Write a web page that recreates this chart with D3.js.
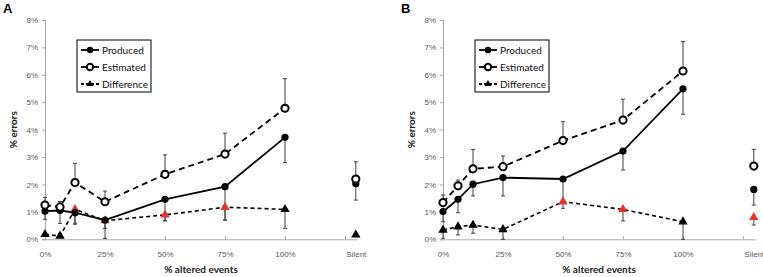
<!DOCTYPE html>
<html>
<head>
<meta charset="utf-8">
<script src="https://cdn.jsdelivr.net/npm/d3@7"></script>
<style>
  body { margin: 0; background: #fff; }
  svg { display: block; font-family: Lato, "Open Sans", sans-serif; }
  .tick text { fill: #595959; font-size: 8px; }
  .axes path, .axes line { stroke: #a6a6a6; }
  .axisLabel { font-weight: bold; font-size: 10px; fill: #222; text-anchor: middle; }
  .panelLabel { font-family: "Liberation Sans", Arial, sans-serif; font-weight: bold; font-size: 13px; }
  .legend-label { font-size: 10px; fill: #111; }
</style>
</head>
<body>
<div id="canvas"></div>
<script>
// DATA
const categories = ["0%", "6.25%", "12.5%", "25%", "50%", "75%", "100%", "Silent"];
const altered = [0, 6.25, 12.5, 25, 50, 75, 100, null];   // null = Silent
const xTickLabels = ["0%", "25%", "50%", "75%", "100%", "Silent"];
const yTicks = [0, 1, 2, 3, 4, 5, 6, 7, 8];

const aProduced      = [1.03, 1.05, 0.97, 0.70, 1.46, 1.92, 3.72, 2.03];
const aProducedErr   = [0.30, 0.47, 0.42, 0.30, 0.78, 1.22, 0.92, 0.60];
const aEstimated     = [1.25, 1.18, 2.07, 1.37, 2.37, 3.11, 4.78, 2.20];
const aEstimatedErr  = [0.28, 0.20, 0.70, 0.39, 0.71, 0.76, 1.08, 0.63];
const aDifference    = [0.18, 0.12, 1.09, 0.68, 0.89, 1.17, 1.09, 0.16];
const aDifferenceErr = [0.00, 0.00, 0.50, 0.65, 0.22, 0.47, 0.69, 0.00];
const aSignificant   = [false, false, true, true, true, true, false, false];

const bProduced      = [1.01, 1.46, 2.01, 2.25, 2.20, 3.22, 5.49, 1.82];
const bProducedErr   = [0.37, 0.49, 0.43, 0.67, 0.80, 0.69, 0.93, 0.57];
const bEstimated     = [1.34, 1.95, 2.57, 2.65, 3.60, 4.35, 6.14, 2.67];
const bEstimatedErr  = [0.28, 0.21, 0.71, 0.39, 0.69, 0.76, 1.07, 0.61];
const bDifference    = [0.34, 0.46, 0.52, 0.36, 1.37, 1.09, 0.64, 0.80];
const bDifferenceErr = [0.30, 0.30, 0.30, 0.36, 0.24, 0.42, 0.64, 0.28];
const bSignificant   = [false, false, false, false, true, true, false, true];

// DIMENSIONS
const width = 763;
const height = 277;
const SILENT = 129.5;

const canvas = d3.select("#canvas")
  .append("svg")
  .attr("width", width)
  .attr("height", height);

function drawPanel(left, label, produced, producedErr, estimated, estimatedErr, difference, differenceErr, significant) {
  const margin = { left: left + 45, top: 20 };
  const plot_width = 312;
  const plot_height = 219.3;

  canvas.append("text").attr("class", "panelLabel")
    .attr("x", left + 3).attr("y", 13).text(label);

  const plot = canvas.append("g")
    .attr("transform", `translate(${margin.left},${margin.top})`);

  // SCALES
  const scaleX = d3.scaleLinear().domain([0, 130]).range([0, plot_width]);
  const scaleY = d3.scaleLinear().domain([0, 8]).range([plot_height, 0]);

  const rows = categories.map((c, i) => ({
    cat: c,
    x: altered[i] === null ? SILENT : altered[i],
    silent: altered[i] === null,
    p: produced[i], pe: producedErr[i],
    e: estimated[i], ee: estimatedErr[i],
    d: difference[i], de: differenceErr[i],
    sig: significant[i]
  }));
  const main = rows.filter(r => !r.silent);

  // AXES
  plot.append("g").attr("class", "axes")
    .call(d3.axisLeft(scaleY).tickValues(yTicks).tickFormat(d => d + "%").tickSize(3).tickPadding(4));

  plot.append("g").attr("class", "axes")
    .attr("transform", `translate(0,${plot_height})`)
    .call(d3.axisBottom(scaleX).tickValues([0, 25, 50, 75, 100, 125]).tickFormat("").tickSize(-3).tickSizeOuter(0));

  const xl = plot.append("g").attr("class", "axes")
    .attr("transform", `translate(0,${plot_height})`)
    .call(d3.axisBottom(scaleX).tickValues([0, 25, 50, 75, 100, SILENT])
      .tickFormat((d, i) => xTickLabels[i]).tickSize(0).tickPadding(12));
  xl.select(".domain").remove();

  // LABELS
  plot.append("text").attr("class", "axisLabel")
    .attr("x", plot_width / 2).attr("y", plot_height + 34)
    .text("% altered events");
  plot.append("text").attr("class", "axisLabel")
    .attr("transform", `translate(-28,${plot_height / 2}) rotate(-90)`)
    .text("% errors");

  // ERROR BARS
  function errorBars(key, errKey, dir) {
    const g = plot.append("g").attr("stroke", "#404040").attr("stroke-width", 1);
    rows.filter(r => r[errKey] > 0).forEach(r => {
      const x = scaleX(r.x);
      const end = Math.max(0, r[key] + dir * r[errKey]);
      g.append("line").attr("x1", x).attr("x2", x)
        .attr("y1", scaleY(r[key])).attr("y2", scaleY(end));
      g.append("line").attr("x1", x - 2).attr("x2", x + 2)
        .attr("y1", scaleY(end)).attr("y2", scaleY(end));
    });
  }
  errorBars("e", "ee", 1);
  errorBars("p", "pe", -1);
  errorBars("d", "de", -1);

  // LINES
  const line = key => d3.line().x(d => scaleX(d.x)).y(d => scaleY(d[key]));
  plot.append("path").datum(main).attr("d", line("d"))
    .attr("fill", "none").attr("stroke", "#000").attr("stroke-width", 1.6).attr("stroke-dasharray", "4,3");
  plot.append("path").datum(main).attr("d", line("e"))
    .attr("fill", "none").attr("stroke", "#000").attr("stroke-width", 1.8).attr("stroke-dasharray", "6,4");
  plot.append("path").datum(main).attr("d", line("p"))
    .attr("fill", "none").attr("stroke", "#000").attr("stroke-width", 1.8);

  // MARKERS
  plot.append("g").selectAll("path").data(rows).join("path")
    .attr("d", d3.symbol(d3.symbolTriangle, 38))
    .attr("transform", d => `translate(${scaleX(d.x)},${scaleY(d.d)})`)
    .attr("fill", d => d.sig ? "#e3342b" : "#000");
  plot.append("g").selectAll("circle").data(rows).join("circle")
    .attr("cx", d => scaleX(d.x)).attr("cy", d => scaleY(d.p)).attr("r", 3.6)
    .attr("fill", "#000");
  plot.append("g").selectAll("circle").data(rows).join("circle")
    .attr("cx", d => scaleX(d.x)).attr("cy", d => scaleY(d.e)).attr("r", 3.6)
    .attr("fill", "#fff").attr("stroke", "#000").attr("stroke-width", 2);

  // LEGEND
  const legend = plot.append("g").attr("class", "legend").attr("transform", "translate(32,20)");
  legend.append("rect").attr("width", 74).attr("height", 52)
    .attr("fill", "#fff").attr("stroke", "#000").attr("stroke-width", 1);
  const items = [
    { name: "Produced", dash: null, mark: "dot" },
    { name: "Estimated", dash: null, mark: "open" },
    { name: "Difference", dash: "3,2", mark: "tri" }
  ];
  items.forEach((it, i) => {
    const y = 10 + i * 17;
    legend.append("line").attr("x1", 4).attr("x2", 22).attr("y1", y).attr("y2", y)
      .attr("stroke", "#000").attr("stroke-width", 1.8).attr("stroke-dasharray", it.dash);
    if (it.mark === "dot") legend.append("circle").attr("cx", 13).attr("cy", y).attr("r", 3.2);
    if (it.mark === "open") legend.append("circle").attr("cx", 13).attr("cy", y).attr("r", 3.2)
      .attr("fill", "#fff").attr("stroke", "#000").attr("stroke-width", 2);
    if (it.mark === "tri") legend.append("path").attr("d", d3.symbol(d3.symbolTriangle, 22))
      .attr("transform", `translate(13,${y})`);
    legend.append("text").attr("class", "legend-label")
      .attr("x", 25).attr("y", y + 3.5).text(it.name);
  });
}

drawPanel(0, "A", aProduced, aProducedErr, aEstimated, aEstimatedErr, aDifference, aDifferenceErr, aSignificant);
drawPanel(398, "B", bProduced, bProducedErr, bEstimated, bEstimatedErr, bDifference, bDifferenceErr, bSignificant);
</script>
</body>
</html>
